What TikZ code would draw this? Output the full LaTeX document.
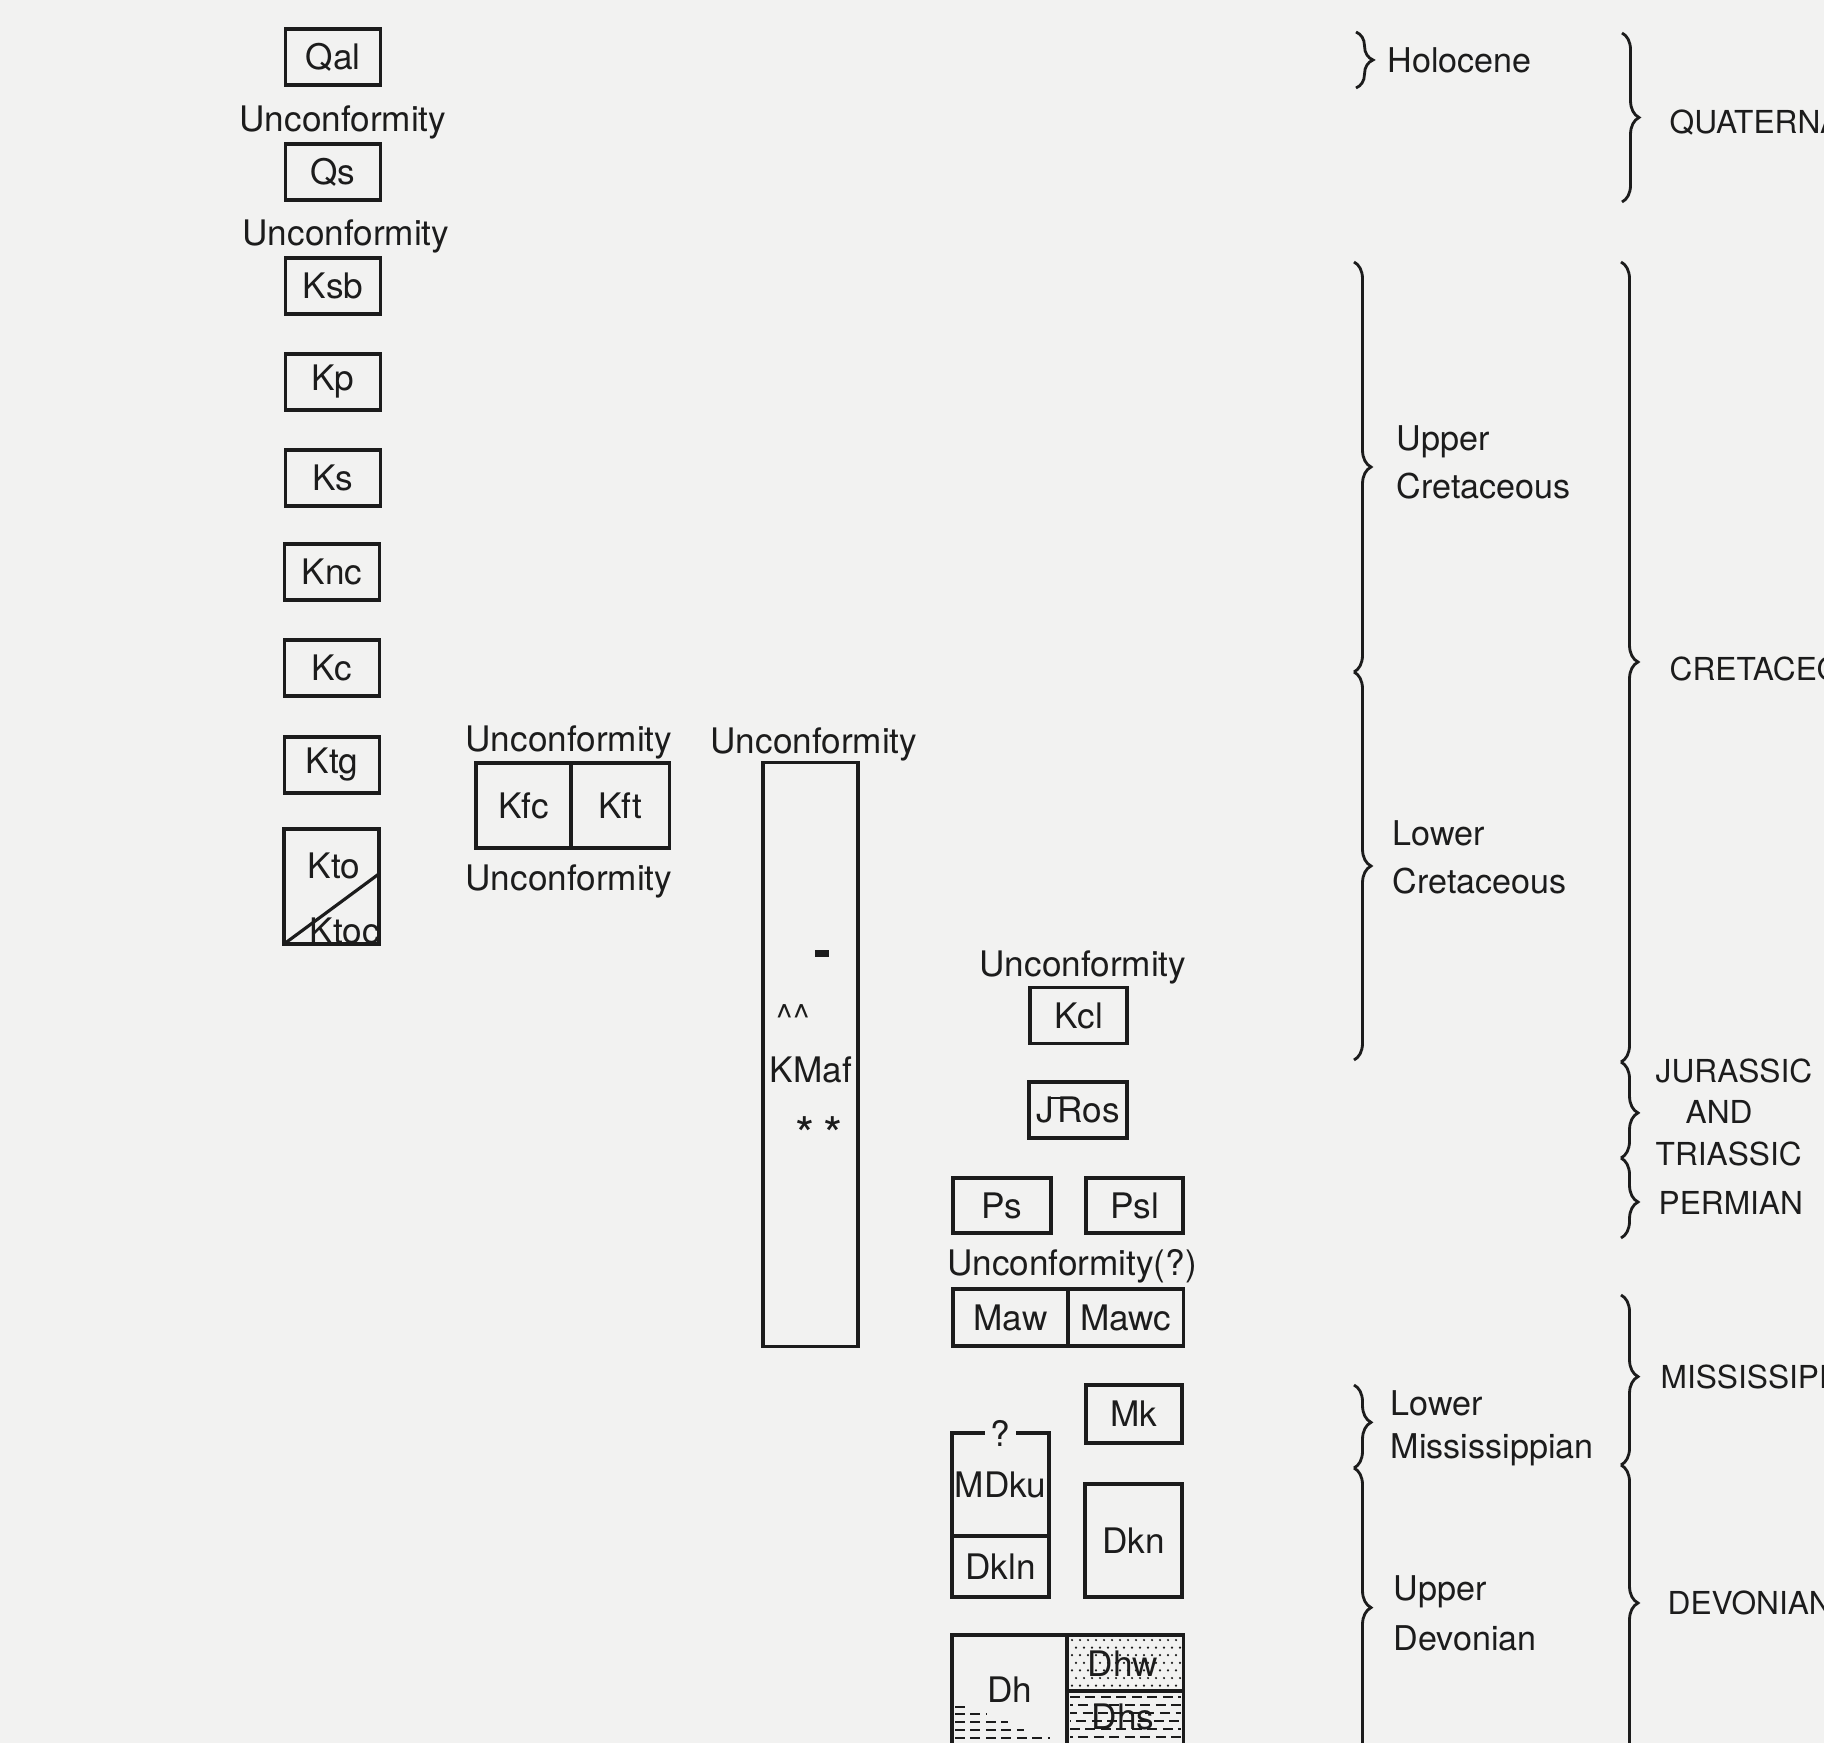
\documentclass[tikz,border=0pt]{standalone}
\usepackage{fontspec}
\setmainfont{TeX Gyre Heros}
\usetikzlibrary{positioning,calc,decorations.pathreplacing}
\definecolor{paper}{HTML}{F2F2F1}
\definecolor{ink}{HTML}{1C1C1C}
\newcommand\trias{\kern0.1em\rlap{\kern-0.18em\rule[0.66em]{0.42em}{0.07em}}R}

\begin{document}
\begin{tikzpicture}[x=0.01cm,y=-0.01cm,ink,
  unit/.style={draw,line width=0.9pt,minimum width=0.95cm,minimum height=0.56cm,inner sep=0pt,outer sep=0pt,font=\fontsize{10}{12}\selectfont},
  unc/.style={inner sep=0pt,font=\fontsize{10}{12}\selectfont},
  series/.style={anchor=west,align=left,inner sep=0pt,font=\fontsize{9.7}{13.6}\selectfont},
  system/.style={anchor=west,align=left,inner sep=0pt,font=\fontsize{9}{11.8}\selectfont},
  curly/.style={decorate,decoration={brace,amplitude=0.17cm,aspect=#1},line width=0.8pt},
  curly/.default=0.5,
  shale/.style={line width=0.45pt,dash pattern=on 2.8pt off 1.6pt}]
  \useasboundingbox (0,0) rectangle (1824,1743);
  \fill[paper] (0,0) rectangle (1824,1743);
  \clip (0,0) rectangle (1824,1743);

  % left column
  \node[unit] (qal) at (333,57) {Qal};
  \node[unc] (unc1) at (343,122) {Unconformity};
  \node[unit] (qs) at (333,172) {Qs};
  \node[unc] (unc2) at (346,236) {Unconformity};
  \node[unit] (ksb) at (333,286) {Ksb};
  \node[unit] (kp) at (333,382) {Kp};
  \node[unit] (ks) at (333,478) {Ks};
  \node[unit] (knc) at (332,572) {Knc};
  \node[unit] (kc) at (332,668) {Kc};
  \node[unit] (ktg) at (332,765) {Ktg};
  \node[unit,minimum height=1.15cm] (kto) at (331.5,886.5) {};
  \draw[line width=0.9pt] (kto.south west) -- ($(kto.north east)!0.39!(kto.south east)$);
  \node[unc] (ktolab) at (334,866) {Kto};
  \node[unc] (ktoclab) at (345,931) {Ktoc};

  \node[unc] (unc3) at (569,742) {Unconformity};
  \node[unit,minimum height=0.85cm] (kfc) at (523.5,805.5) {Kfc};
  \node[unit,minimum width=0.98cm,minimum height=0.85cm,right=0pt of kfc] (kft) {Kft};
  \node[unc] (unc4) at (569,881) {Unconformity};

  \node[unc] (unc5) at (814,744) {Unconformity};
  \node[unit,minimum height=5.83cm] (kmaf) at (810.5,1054.5) {};
  \node[fill,inner sep=0pt,minimum width=0.14cm,minimum height=0.07cm] (tick) at (822,953.5) {};
  \node[unc,anchor=base] (carets) at (793,1029) {\textasciicircum\textasciicircum};
  \node[unc,anchor=base] (kmaflab) at (811,1082) {KMaf};
  \node[unc,anchor=base,font=\fontsize{14}{14}\selectfont] (stars) at (819,1152) {*\,*};

  % right group
  \node[unc] (unc6) at (1083,967) {Unconformity};
  \node[unit,minimum width=0.97cm] (kcl) at (1078.5,1015.5) {Kcl};
  \node[unit,minimum width=0.98cm] (jtros) at (1078,1110) {J\trias os};
  \node[unit,minimum width=0.98cm,minimum height=0.55cm] (ps) at (1002,1205.5) {Ps};
  \node[unit,minimum width=0.97cm,minimum height=0.55cm] (psl) at (1134.5,1205.5) {Psl};
  \node[unc] (unc7) at (1072,1266) {Unconformity(?)};
  \node[unit,minimum width=1.15cm,minimum height=0.57cm] (maw) at (1010.5,1317.5) {Maw};
  \node[unit,minimum width=1.15cm,minimum height=0.57cm,right=0pt of maw] (mawc) {Mawc};
  \node[unit,minimum width=0.96cm,minimum height=0.58cm] (mk) at (1134,1414) {Mk};
  \node[unit,minimum width=0.97cm,minimum height=1.03cm] (mdku) at (1000.5,1484.5) {MDku};
  \node[unit,minimum width=0.97cm,minimum height=0.61cm,below=0pt of mdku] (dkln) {Dkln};
  \node[fill=paper,inner sep=1.5pt,font=\fontsize{10}{12}\selectfont] (query) at (mdku.north) {?};
  \node[unit,minimum width=0.97cm,minimum height=1.13cm] (dkn) at (1133.5,1540.5) {Dkn};

  \node[unit,anchor=north west,minimum width=1.15cm,minimum height=1.4cm] (dh) at (952,1635) {};
  \node[unit,anchor=north west,minimum width=1.16cm,minimum height=0.56cm] (dhw) at (dh.north east) {};
  \node[unit,anchor=north west,minimum width=1.16cm,minimum height=0.84cm] (dhs) at (dhw.south west) {};
  \foreach \i in {0,...,13}
    \foreach \j in {0,...,6}
      \fill ({1072+8*\i+4*mod(\j,2)},{1640+7.6*\j}) circle (0.35pt);
  \foreach \yy/\ph in {1697/0pt,1705/2pt,1713/0.8pt,1721/2.6pt,1729/0pt,1737/2pt}
    \draw[shale,dash phase=\ph] (1070,\yy) -- (1181,\yy);
  \foreach \yy/\xe in {1707/966,1714/986,1722/1008,1730/1024,1738/1050}
    \draw[shale] (955,\yy) -- (\xe,\yy);
  \node[unc] (dhlab) at (1010,1690) {Dh};
  \node[unc] (dhwlab) at (1123,1664) {Dhw};
  \node[unc] (dhslab) at (1123,1717) {Dhs};

  % braces
  \draw[curly] (1356,32) -- (1356,88);
  \draw[curly] (1354,262) -- (1354,672);
  \draw[curly] (1354,672) -- (1354,1060);
  \draw[curly=0.45] (1354,1385) -- (1354,1468);
  \draw[curly=0.47] (1354,1468) -- (1354,1765);
  \draw[curly] (1622,33) -- (1622,202);
  \draw[curly] (1621,262) -- (1621,1062);
  \draw[curly=0.53] (1621,1062) -- (1621,1158);
  \draw[curly=0.55] (1621,1158) -- (1621,1238);
  \draw[curly=0.48] (1621,1295) -- (1621,1465);
  \draw[curly=0.46] (1621,1465) -- (1621,1765);

  \node[series] (holo) at (1387,60) {Holocene};
  \node[series] (ucret) at (1396,462) {Upper\\Cretaceous};
  \node[series] (lcret) at (1392,857) {Lower\\Cretaceous};
  \node[series] (lmiss) at (1390,1428) {Lower\\[-1.3pt]Mississippian};
  \node[series] (udev) at (1393,1613) {Upper\\[0.7pt]Devonian};
  \node[system] (quat) at (1669,123) {QUATERNARY};
  \node[system] (cret) at (1669,669) {CRETACEOUS};
  \node[system] (jtr) at (1655,1112) {JURASSIC\\\hspace*{0.3cm}AND\\TRIASSIC};
  \node[system] (perm) at (1658,1203) {PERMIAN};
  \node[system] (miss) at (1660,1377) {MISSISSIPPIAN};
  \node[system] (dev) at (1667,1603) {DEVONIAN};
\end{tikzpicture}
\end{document}
